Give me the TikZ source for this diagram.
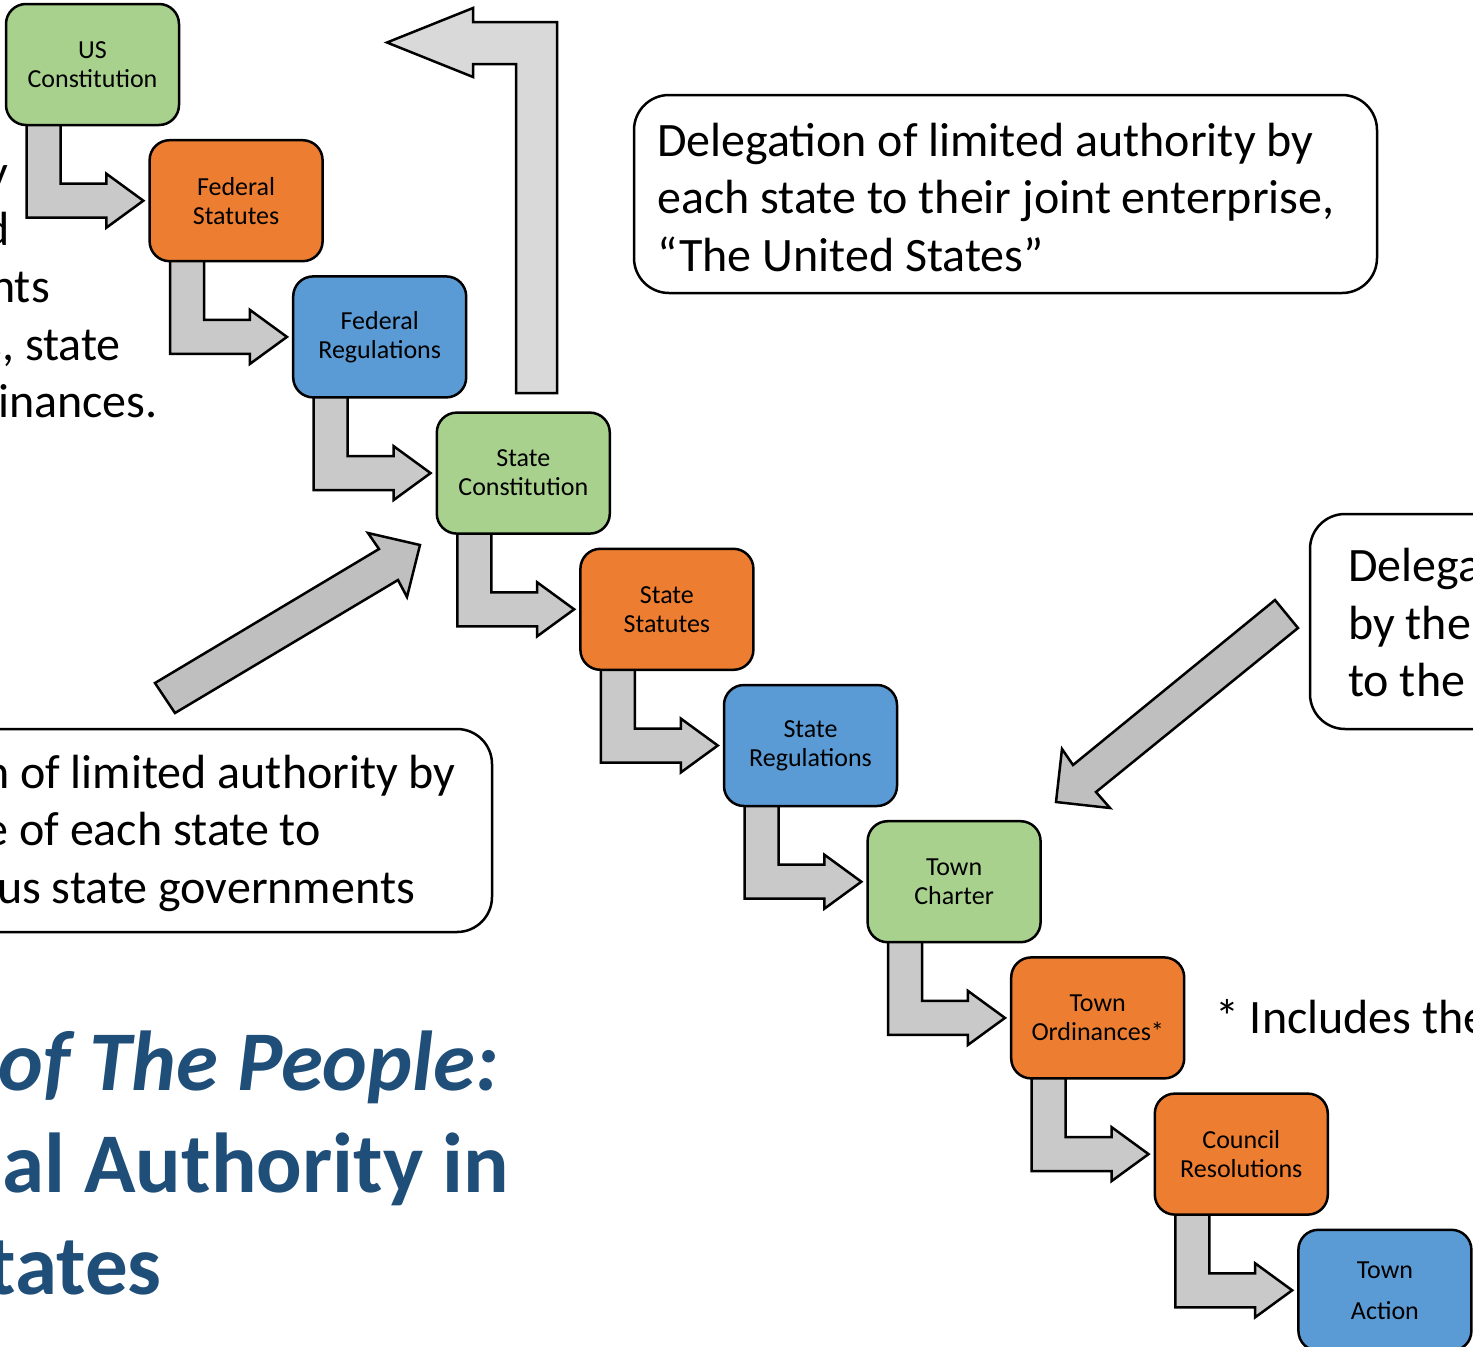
\documentclass[tikz,border=0pt]{standalone}
\usepackage{fontspec}
\setmainfont{Carlito}
\usetikzlibrary{calc}
\definecolor{lgreen}{HTML}{A9D18E}
\definecolor{lorange}{HTML}{ED7D31}
\definecolor{lblue}{HTML}{5B9BD5}
\definecolor{arrowgray}{HTML}{C9C9C9}
\definecolor{diaggray}{HTML}{BFBFBF}
\definecolor{upgray}{HTML}{D9D9D9}
\definecolor{titleblue}{HTML}{1F4E79}
\pgfdeclarelayer{back}
\pgfsetlayers{back,main}
\newcommand{\stepconn}[2]{%
  \coordinate (#1-L) at ($(#1.south)+(-66,-6)$);
  \coordinate (#1-R) at ($(#1.south)+(-32,-6)$);
  \coordinate (#1-T) at ($(#2.west)+(-5,0)$);
  \coordinate (#1-H) at ($(#1-T)+(-37,0)$);
  \coordinate (#1-C) at (#1-R |- #1-T);
  \coordinate (#1-D) at (#1-L |- #1-T);
  \filldraw[stepshaft] (#1-L) -- (#1-R) -- ($(#1-C)+(0,-17)$) -- ($(#1-H)+(0,-17)$)
    -- ($(#1-H)+(0,-27)$) -- (#1-T) -- ($(#1-H)+(0,27)$) -- ($(#1-H)+(0,17)$)
    -- ($(#1-D)+(0,17)$) -- cycle;}
\begin{document}
\begin{tikzpicture}[x=1pt,y=-1pt,
  stepbox/.style={draw=black, line width=2.5pt, rounded corners=20pt,
    minimum width=173pt, minimum height=121pt, align=center, inner sep=0pt,
    font=\fontsize{26}{29}\selectfont},
  stepshaft/.style={fill=arrowgray, draw=black, line width=2.5pt, line join=miter},
  diagarrow/.style={fill=diaggray, draw=black, line width=2.5pt, line join=miter},
  uparrow/.style={fill=upgray, draw=black, line width=2.5pt, line join=miter},
  talkbox/.style={draw=black, line width=2.5pt, rounded corners=35pt, fill=white},
  bigtxt/.style={font=\fontsize{48}{57.5}\selectfont, inner sep=0pt},
  titletxt/.style={font=\fontsize{85}{102}\selectfont\bfseries, text=titleblue, inner sep=0pt}]
\useasboundingbox (0,0) rectangle (1473,1347);
\clip (0,0) rectangle (1473,1347);

% left text fragments
\node[bigtxt, anchor=base east] (la) at (8,188) {y};
\node[bigtxt, anchor=base east] (lb) at (10,245) {d};
\node[bigtxt, anchor=base east] (lc) at (50,302) {nts};
\node[bigtxt, anchor=base east] (ld) at (121,360) {s, state};
\node[bigtxt, anchor=base east] (le) at (158,417) {inances.};

% big up arrow
\filldraw[uparrow] (557,393) -- (557,22) -- (473,22) -- (473,8) -- (387,42.5)
  -- (473,77) -- (473,64) -- (516,64) -- (516,393) -- cycle;

% diagonal arrows
\filldraw[diagarrow] (155,683) -- (379,549) -- (368,533) -- (420,545) -- (407,597)
  -- (398,580) -- (175,713) -- cycle;
\filldraw[diagarrow] (1275,600) -- (1073,765) -- (1062,749) -- (1056,802) -- (1110,808)
  -- (1096,792) -- (1298,628) -- cycle;

% boxes
\node[stepbox, fill=lgreen]  (n1)  at (92.5,64.5)   {US\\Constitution};
\node[stepbox, fill=lorange] (n2)  at (236.1,200.7) {Federal\\Statutes};
\node[stepbox, fill=lblue]   (n3)  at (379.7,336.9) {Federal\\Regulations};
\node[stepbox, fill=lgreen]  (n4)  at (523.3,473.1) {State\\Constitution};
\node[stepbox, fill=lorange] (n5)  at (666.9,609.3) {State\\Statutes};
\node[stepbox, fill=lblue]   (n6)  at (810.5,745.5) {State\\Regulations};
\node[stepbox, fill=lgreen]  (n7)  at (954.1,881.7) {Town\\Charter};
\node[stepbox, fill=lorange] (n8)  at (1097.7,1017.9) {Town\\Ordinances*};
\node[stepbox, fill=lorange] (n9)  at (1241.3,1154.1) {Council\\Resolutions};
\node[stepbox, fill=lblue, font=\fontsize{26}{41}\selectfont] (n10) at (1384.9,1290.3) {Town\\Action};

\begin{pgfonlayer}{back}
\stepconn{n1}{n2}
\stepconn{n2}{n3}
\stepconn{n3}{n4}
\stepconn{n4}{n5}
\stepconn{n5}{n6}
\stepconn{n6}{n7}
\stepconn{n7}{n8}
\stepconn{n8}{n9}
\stepconn{n9}{n10}
\end{pgfonlayer}

% talk boxes
\node[talkbox, minimum width=743pt, minimum height=198pt] (tb1) at (1005.5,194) {};
\node[bigtxt, anchor=base west] (t1a) at (657,156) {Delegation of limited authority by};
\node[bigtxt, anchor=base west] (t1b) at (657,213) {each state to their joint enterprise,};
\node[bigtxt, anchor=base west] (t1c) at (657,271) {“The United States”};

\node[talkbox, minimum width=552pt, minimum height=203pt] (tb2) at (216,830.5) {};
\node[bigtxt, anchor=base east] (t2a) at (456,788) {n of limited authority by};
\node[bigtxt, anchor=base east] (t2b) at (321,845) {e of each state to};
\node[bigtxt, anchor=base east] (t2c) at (415,903) {us state governments};

\node[talkbox, minimum width=250pt, minimum height=215pt] (tb3) at (1435,621.5) {};
\node[bigtxt, anchor=base west] (t3a) at (1348,581) {Delega};
\node[bigtxt, anchor=base west] (t3b) at (1348,639) {by the};
\node[bigtxt, anchor=base west] (t3c) at (1348,696) {to the};

\node[bigtxt, anchor=base west] (note) at (1215,1033) {* Includes the};

% title fragments
\node[titletxt, font=\fontsize{85}{102}\selectfont\bfseries\itshape, anchor=base east] (ti1) at (499,1090) {of The People:};
\node[titletxt, anchor=base east] (ti2) at (509,1192) {al Authority in};
\node[titletxt, anchor=base east] (ti3) at (162,1294) {tates};
\end{tikzpicture}
\end{document}
